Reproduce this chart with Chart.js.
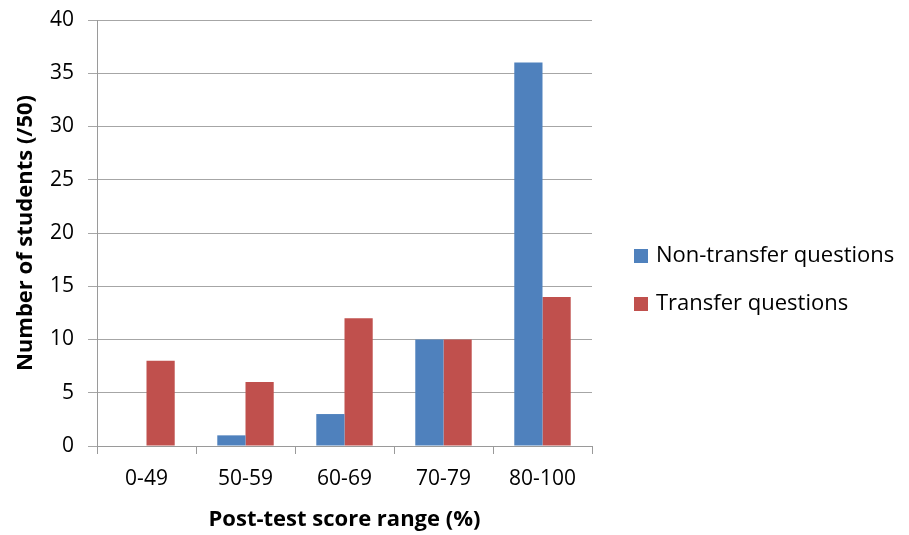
<!DOCTYPE html>
<html>
<head>
<meta charset="utf-8">
<script src="https://cdn.jsdelivr.net/npm/chart.js@4"></script>
<style>
  html, body { margin: 0; padding: 0; background: #fff; }
  #wrap { width: 909px; height: 535px; }
</style>
</head>
<body>
<div id="wrap"><canvas id="scores"></canvas></div>
<script>
const scoreRanges = [ '0-49', '50-59', '60-69', '70-79', '80-100' ]
const nonTransfer = [ 0, 1, 3, 10, 36 ]
const transfer = [ 8, 6, 12, 10, 14 ]

const font = "'Open Sans', 'DejaVu Sans', sans-serif"

// legend drawn to the right of the plot, like the original figure
const sideLegend = {
  id: 'sideLegend',
  afterDraw(chart) {
    const ctx = chart.ctx
    const x = chart.chartArea.right + 42
    const rows = [256, 304]
    ctx.save()
    ctx.font = '22px ' + font
    ctx.textBaseline = 'middle'
    ctx.textAlign = 'left'
    chart.data.datasets.forEach((ds, i) => {
      ctx.fillStyle = ds.backgroundColor
      ctx.fillRect(x, rows[i] - 7, 14, 14)
      ctx.fillStyle = '#000'
      ctx.fillText(ds.label, x + 22, rows[i])
    })
    ctx.restore()
  }
}

let chart = new Chart(document.querySelector('#scores'), {
  type: 'bar',
  plugins: [sideLegend],
  data: {
    labels: scoreRanges,
    datasets: [{
      label: 'Non-transfer questions',
      data: nonTransfer,
      backgroundColor: '#4F81BD',
      barPercentage: 1,
      categoryPercentage: 0.57
    }, {
      label: 'Transfer questions',
      data: transfer,
      backgroundColor: '#C0504D',
      barPercentage: 1,
      categoryPercentage: 0.57
    }]
  },
  options: {
    responsive: true,
    maintainAspectRatio: false,
    animation: false,
    layout: {
      padding: { left: 0, right: 317, top: 20, bottom: 0 }
    },
    scales: {
      x: {
        grid: {
          offset: true,
          drawOnChartArea: false,
          color: '#9a9a9a',
          tickLength: 8
        },
        border: { color: '#9a9a9a' },
        ticks: {
          color: '#000',
          padding: 12,
          font: { family: font, size: 21 }
        },
        title: {
          display: true,
          text: 'Post-test score range (%)',
          color: '#000',
          padding: { top: 0, bottom: 2 },
          font: { family: font, size: 22, weight: 'bold' }
        },
        afterFit(scale) { scale.height = 89 }
      },
      y: {
        min: 0,
        max: 40,
        ticks: {
          stepSize: 5,
          color: '#000',
          padding: 14,
          font: { family: font, size: 21 }
        },
        grid: {
          color: '#a6a6a6',
          tickLength: 9
        },
        border: { color: '#9a9a9a' },
        title: {
          display: true,
          text: 'Number of students (/50)',
          color: '#000',
          padding: { top: 13, bottom: 0 },
          font: { family: font, size: 22, weight: 'bold' }
        },
        afterFit(scale) {
          scale.width = 97
          scale.paddingTop = 0
          scale.paddingBottom = 0
        }
      }
    },
    plugins: {
      legend: { display: false },
      tooltip: { enabled: false }
    }
  }
})
</script>
</body>
</html>
